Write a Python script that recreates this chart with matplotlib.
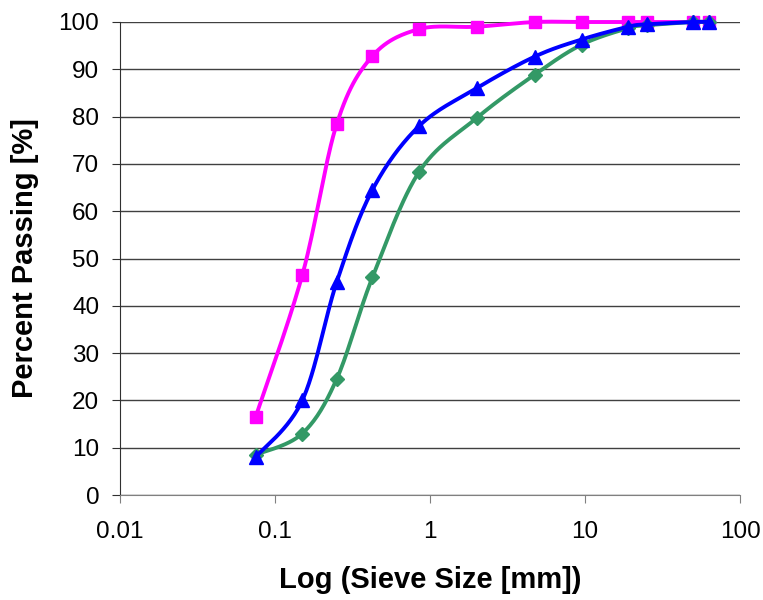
import numpy as np
import matplotlib
matplotlib.use("Agg")
import matplotlib.pyplot as plt

sieve = [0.075, 0.15, 0.25, 0.425, 0.85, 2.0, 4.75, 9.5, 19, 25, 50, 63]
pink = [16.5, 46.5, 78.4, 92.8, 98.5, 99.0, 100, 100, 100, 100, 100, 100]
blue = [8.0, 20.0, 45.0, 64.5, 78.0, 86.0, 92.7, 96.3, 99.0, 99.5, 100, 100]
green = [8.5, 13.0, 24.5, 46.0, 68.3, 79.7, 88.9, 95.2, 98.7, 99.3, 100, 100]

plt.rcParams['font.family'] = ['Liberation Sans', 'DejaVu Sans']

def smooth(xs, ys, n=30):
    lx = np.log10(xs)
    ys = np.asarray(ys, float)
    px, py = [], []
    N = len(lx)
    for i in range(N - 1):
        x0, y0 = (lx[i-1], ys[i-1]) if i > 0 else (lx[i], ys[i])
        x3, y3 = (lx[i+2], ys[i+2]) if i + 2 < N else (lx[i+1], ys[i+1])
        x1, y1 = lx[i], ys[i]
        x2, y2 = lx[i+1], ys[i+1]
        c1x = x1 + (x2 - x0) / 6; c1y = y1 + (y2 - y0) / 6
        c2x = x2 - (x3 - x1) / 6; c2y = y2 - (y3 - y1) / 6
        t = np.linspace(0, 1, n)
        bx = (1-t)**3*x1 + 3*(1-t)**2*t*c1x + 3*(1-t)*t**2*c2x + t**3*x2
        by = (1-t)**3*y1 + 3*(1-t)**2*t*c1y + 3*(1-t)*t**2*c2y + t**3*y2
        px.extend(bx); py.extend(by)
    return 10**np.array(px), np.array(py)

fig = plt.figure(figsize=(7.63, 6.0), dpi=100)
ax = fig.add_axes([120/763, 1-495/600, 620/763, 473/600])

series = [(pink, '#FF00FF', 's', 9), (green, '#339966', 'D', 7.5), (blue, '#0000FF', '^', 10.5)]
for ys, col, mk, ms in series:
    sx, sy = smooth(sieve, ys)
    ax.plot(sx, sy, color=col, lw=2.8, solid_capstyle='round', clip_on=False)
    ax.plot(sieve, ys, linestyle='none', marker=mk, color=col, ms=ms, clip_on=False)

ax.set_xscale('log')
ax.set_xlim(0.01, 100)
ax.set_ylim(0, 100)
ax.set_yticks(range(0, 101, 10))
ax.set_xticks([0.01, 0.1, 1, 10, 100])
ax.set_xticklabels(['0.01', '0.1', '1', '10', '100'])
ax.minorticks_off()
ax.yaxis.grid(True, color='#404040', lw=1)
ax.set_axisbelow(True)
for s in ['top', 'right']:
    ax.spines[s].set_visible(False)
ax.spines['left'].set_color('#303030')
ax.spines['bottom'].set_color('#808080')
ax.tick_params(axis='both', labelsize=17.5, length=6, direction='out')
ax.tick_params(axis='y', pad=9, color='#303030')
ax.tick_params(axis='x', pad=13, color='#808080')
ax.set_xlabel('Log (Sieve Size [mm])', fontsize=21, fontweight='bold', labelpad=16)
ax.set_ylabel('Percent Passing [%]', fontsize=21, fontweight='bold', labelpad=14)

fig.savefig('out.png', dpi=100)
